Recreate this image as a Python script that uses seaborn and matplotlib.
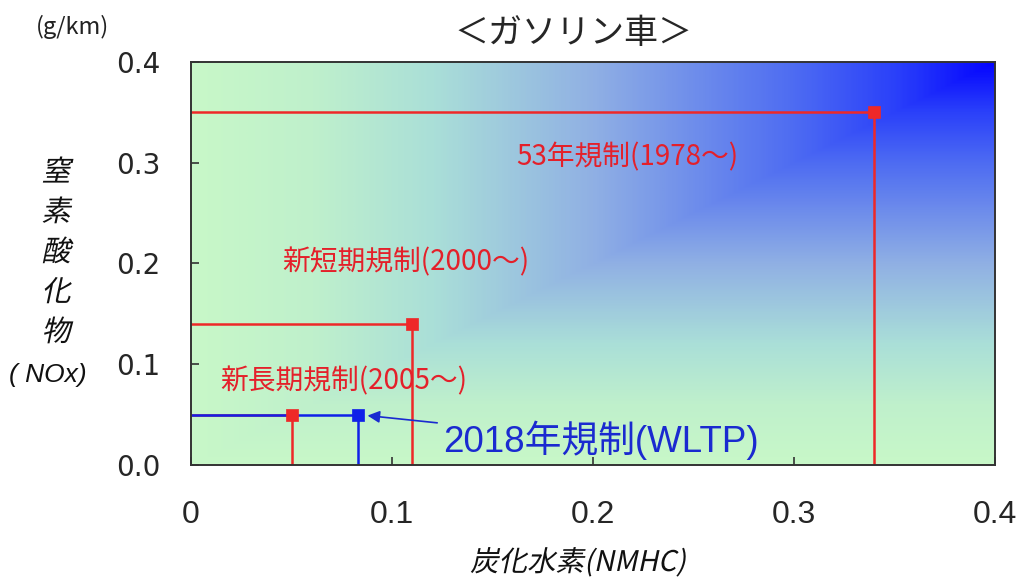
import numpy as np
import pandas as pd
import matplotlib
matplotlib.use("Agg")
import matplotlib.pyplot as plt
import matplotlib.patheffects as pe
from matplotlib.colors import LinearSegmentedColormap
from matplotlib.transforms import Affine2D
import seaborn as sns

# ---- data ---------------------------------------------------------------
regulations = ["53年規制(1978～)", "新短期規制(2000～)", "新長期規制(2005～)", "2018年規制(WLTP)"]
nmhc = [0.34, 0.11, 0.05, 0.083]      # g/km
nox = [0.35, 0.14, 0.05, 0.05]        # g/km

x_ticks = [0.0, 0.1, 0.2, 0.3, 0.4]
x_tick_labels = ["0", "0.1", "0.2", "0.3", "0.4"]
y_ticks = [0.0, 0.1, 0.2, 0.3, 0.4]
y_tick_labels = ["0.0", "0.1", "0.2", "0.3", "0.4"]

title = "＜ガソリン車＞"
unit_label = "(g/km)"
y_label_chars = ["窒", "素", "酸", "化", "物"]
y_label_sub = "( NOx)"
x_label = "炭化水素(NMHC)"

# ---- styling ------------------------------------------------------------
RED_LINE = "#ee2828"
RED_TEXT = "#e4202a"
BLUE_LINE = "#1020e8"
BLUE_TEXT = "#1a2ad0"
line_colors = [RED_LINE, RED_LINE, RED_LINE, BLUE_LINE]
text_colors = [RED_TEXT, RED_TEXT, RED_TEXT, BLUE_TEXT]
# label centre positions (data coords) for the regulation captions
label_pos = [(0.217, 0.305), (0.107, 0.2015), (0.076, 0.0834), (0.1255, 0.0248)]
NARROW = ["Liberation Sans Narrow", "Noto Sans CJK JP"]
REGULAR = ["Liberation Sans", "Noto Sans CJK JP"]

sns.set_style("ticks")
plt.rcParams["font.family"] = ["Noto Sans CJK JP", "DejaVu Sans"]
plt.rcParams["axes.unicode_minus"] = False


class Slant(pe.AbstractPathEffect):
    """Shear text paths to give a synthetic oblique look."""

    def __init__(self, deg=12):
        super().__init__()
        self._deg = deg

    def draw_path(self, renderer, gc, tpath, affine, rgbFace=None):
        ox, oy = affine.transform((0, 0))
        t = affine + Affine2D().translate(-ox, -oy).skew_deg(self._deg, 0).translate(ox, oy)
        renderer.draw_path(gc, tpath, t, rgbFace)


fig = plt.figure(figsize=(10.27, 5.79), dpi=100)
ax = fig.add_axes([0.186, 0.197, 0.7828, 0.696])

# background: rectangular gradient radiating from the upper-right corner
gx = np.linspace(0, 0.4, 400)
gy = np.linspace(0, 0.4, 400)
GX, GY = np.meshgrid(gx, gy)
tt = np.maximum(1 - GX / 0.4, 1 - GY / 0.4)
bg_cmap = LinearSegmentedColormap.from_list(
    "bg",
    [(0.0, "#0404ff"), (0.12, "#2a40fa"), (0.25, "#4e6cf2"), (0.5, "#90b0e4"),
     (0.7, "#aadfd8"), (0.85, "#bff0cc"), (1.0, "#c8f8c8")],
)
ax.imshow(tt, cmap=bg_cmap, vmin=0, vmax=1, extent=[0, 0.4, 0, 0.4],
          origin="lower", aspect="auto", zorder=0, interpolation="bilinear")

# regulation limits: horizontal line from the NOx axis, vertical drop to the HC axis
for hc, nx, col in zip(nmhc, nox, line_colors):
    seg = pd.DataFrame({"x": [0.0, hc, hc], "y": [nx, nx, 0.0]})
    sns.lineplot(data=seg, x="x", y="y", sort=False, estimator=None,
                 color=col, lw=1.8, ax=ax, zorder=3)
for hc, nx, col in zip(nmhc, nox, line_colors):
    sns.scatterplot(x=[hc], y=[nx], marker="s", s=80, color=col,
                    edgecolor=col, linewidth=0.5, ax=ax, zorder=5)

for i, (name, (tx, ty), col) in enumerate(zip(regulations, label_pos, text_colors)):
    if i == 3:
        ax.annotate(name, xy=(nmhc[i], nox[i]), xytext=(tx, ty),
                    ha="left", va="center", fontsize=26.5, color=col, zorder=6,
                    family=REGULAR,
                    arrowprops=dict(arrowstyle="-|>", color=col, lw=1.2,
                                    shrinkA=2, shrinkB=7, mutation_scale=18))
    else:
        ax.text(tx, ty, name, ha="center", va="center", fontsize=20,
                color=col, zorder=6, family=NARROW)

ax.set_xlim(0, 0.4)
ax.set_ylim(0, 0.4)
ax.set_xticks(x_ticks)
ax.set_xticklabels(x_tick_labels, fontfamily="Liberation Sans", fontsize=23)
ax.set_yticks(y_ticks)
ax.set_yticklabels(y_tick_labels, fontfamily="DejaVu Sans", fontsize=20)
ax.tick_params(axis="both", direction="in", length=6, width=1.2, color="#333333")
ax.tick_params(axis="x", pad=25)
ax.tick_params(axis="y", pad=22)
ax.set_xlabel("")
ax.set_ylabel("")
for sp in ax.spines.values():
    sp.set_color("#333333")
    sp.set_linewidth(1.4)
    sp.set_zorder(7)

fig.text(573 / 1027, 1 - 33 / 579, title, ha="center", va="center", fontsize=24.5)
fig.text(73 / 1027, 1 - 27 / 579, unit_label, ha="center", va="center",
         fontsize=17, color="#222222")

for k, ch in enumerate(y_label_chars):
    fig.text(56 / 1027, 1 - (173 + 40 * k) / 579, ch, ha="center", va="center",
             fontsize=21, color="#111111", path_effects=[Slant(12)])
fig.text(48 / 1027, 1 - 375 / 579, y_label_sub, ha="center", va="center",
         fontsize=19, fontfamily="Liberation Sans", style="italic", color="#111111")

fig.text(578 / 1027, 1 - 563 / 579, x_label, ha="center", va="center",
         fontsize=20.5, color="#111111", family=NARROW,
         path_effects=[Slant(12)])

fig.savefig("out.png", dpi=100)
